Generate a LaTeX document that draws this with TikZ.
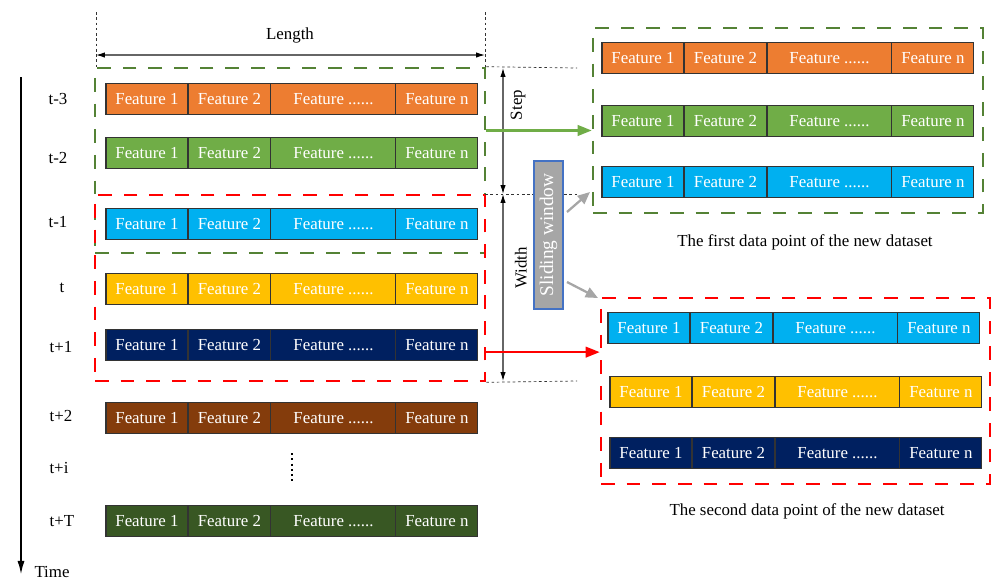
\documentclass[tikz,border=0pt]{standalone}
\usepackage{fontspec}
\setmainfont{Liberation Serif}
\usetikzlibrary{arrows.meta,calc}

\definecolor{cOrange}{HTML}{ED7D31}
\definecolor{cGreen}{HTML}{70AD47}
\definecolor{cBlue}{HTML}{00B0F0}
\definecolor{cYellow}{HTML}{FFC000}
\definecolor{cNavy}{HTML}{002060}
\definecolor{cBrown}{HTML}{843C0C}
\definecolor{cDkGreen}{HTML}{385723}
\definecolor{cDash}{HTML}{548235}
\definecolor{cRed}{HTML}{FF0000}
\definecolor{cGray}{HTML}{A6A6A6}
\definecolor{cFrame}{HTML}{4472C4}

% one row of features: name, left x, centre y, colour
\newcommand{\featrow}[4]{%
  \node[cell,fill=#4,minimum width=1.64cm,anchor=west] (#1a) at (#2,#3) {Feature 1};
  \node[cell,fill=#4,minimum width=1.66cm,anchor=west] (#1b) at (#1a.east) {Feature 2};
  \node[cell,fill=#4,minimum width=2.50cm,anchor=west] (#1c) at (#1b.east) {Feature ......};
  \node[cell,fill=#4,minimum width=1.64cm,anchor=west] (#1d) at (#1c.east) {Feature n};
}

\begin{document}
\begin{tikzpicture}[x=0.02cm,y=-0.02cm,
    txt/.style={font=\fontsize{9.6}{11}\selectfont},
    cell/.style={txt,draw=black!80,line width=0.6pt,text=white,minimum height=0.62cm,inner sep=0pt,outer sep=0pt},
    gbox/.style={draw=cDash,line width=1.5pt,dash pattern=on 7.8pt off 6.8pt,minimum width=7.8cm,minimum height=3.7cm},
    rbox/.style={draw=cRed,line width=1.5pt,dash pattern=on 7.8pt off 6.8pt,minimum width=7.8cm,minimum height=3.72cm},
    dim/.style={black!60,line width=0.6pt,{Latex[black,length=5pt,width=3pt]}-{Latex[black,length=5pt,width=3pt]}},
    guide/.style={black!80,line width=0.4pt,dash pattern=on 1.5pt off 1.5pt},
    bigarrow/.style={line width=1.3pt,-{Triangle[length=8pt,width=6pt]}},
  ]
  \useasboundingbox (0,0) rectangle (993,579);

  % time axis
  \coordinate (tTop) at (21,77);
  \coordinate (tEnd) at (21,575);
  \draw[line width=1.2pt,-{Latex[length=8pt,width=4pt]}] (tTop) -- (tEnd);
  \node[txt] (time) at (52,572) {Time};
  \node[txt] (l1) at (58,99) {t-3};
  \node[txt] (l2) at (58,158) {t-2};
  \node[txt] (l3) at (58,222) {t-1};
  \node[txt] (l4) at (62,288) {t};
  \node[txt] (l5) at (61,347) {t+1};
  \node[txt] (l6) at (61,416) {t+2};
  \node[txt] (l7) at (59,468) {t+i};
  \node[txt] (l8) at (62,521) {t+T};

  % original rows
  \featrow{r1}{106}{99}{cOrange}
  \featrow{r2}{106}{153}{cGreen}
  \featrow{r3}{106}{224}{cBlue}
  \featrow{r4}{106}{289}{cYellow}
  \featrow{r5}{106}{345}{cNavy}
  \featrow{r6}{106}{418}{cBrown}
  \featrow{r7}{106}{521}{cDkGreen}
  \draw[line width=1.2pt,dash pattern=on 1.2pt off 1.8pt] (292,453) -- (292,484);

  % windows
  \node[gbox] (win1) at (290,160.5) {};
  \node[rbox] (win2) at (290,288) {};

  % length
  \coordinate (lenL) at (96,55);
  \coordinate (lenR) at (485,55);
  \draw[guide] (96,12) -- (96,68);
  \draw[guide] (485,12) -- (485,68);
  \draw[dim] (lenL) -- (lenR);
  \node[txt] (length) at (290,35) {Length};

  % step and width
  \coordinate (sT) at (503,68);
  \coordinate (sM) at (503,194);
  \coordinate (sB) at (503,381);
  \draw[guide] (win1.north east) -- (577,68);
  \draw[guide] (485,194) -- (577,194);
  \draw[guide] (win2.south east) -- (577,381);
  \draw[dim] (sT) -- (sM);
  \draw[dim] (sM) -- (sB);
  \node[txt,rotate=90] (step) at (518,105) {Step};
  \node[txt,rotate=90] (width) at (521,268) {Width};

  % new dataset
  \featrow{n1}{602}{58}{cOrange}
  \featrow{n2}{602}{121}{cGreen}
  \featrow{n3}{602}{182}{cBlue}
  \node[gbox] (set1) at (788,120.5) {};
  \node[txt] (cap1) at (805,242) {The first data point of the new dataset};

  \featrow{m1}{608}{328}{cBlue}
  \featrow{m2}{610}{392}{cYellow}
  \featrow{m3}{610}{453}{cNavy}
  \node[rbox,minimum width=7.78cm] (set2) at (795.5,391) {};
  \node[txt] (cap2) at (807,511) {The second data point of the new dataset};

  % sliding window
  \node[rotate=90,draw=cFrame,fill=cGray,line width=0.6pt,text=white,font=\fontsize{11}{13}\selectfont,
        minimum width=2.96cm,minimum height=0.58cm,inner sep=0pt] (slide) at (548.5,235) {Sliding window};
  \coordinate (sw1) at (567,212);
  \coordinate (sw1e) at (590,192);
  \coordinate (sw2) at (567,282);
  \coordinate (sw2e) at (598,298);
  \draw[cGray,line width=1.3pt,-{Triangle[length=7pt,width=6pt]}] (sw1) -- (sw1e);
  \draw[cGray,line width=1.3pt,-{Triangle[length=7pt,width=6pt]}] (sw2) -- (sw2e);

  % shift arrows
  \coordinate (g1) at ($(win1.north east)!0.34!(win1.south east)$);
  \coordinate (g2) at ($(win2.north east)!0.84!(win2.south east)$);
  \draw[bigarrow,cGreen] (g1) -- (g1 -| set1.west);
  \draw[bigarrow,cRed] (g2) -- (g2 -| set2.west);
\end{tikzpicture}
\end{document}
